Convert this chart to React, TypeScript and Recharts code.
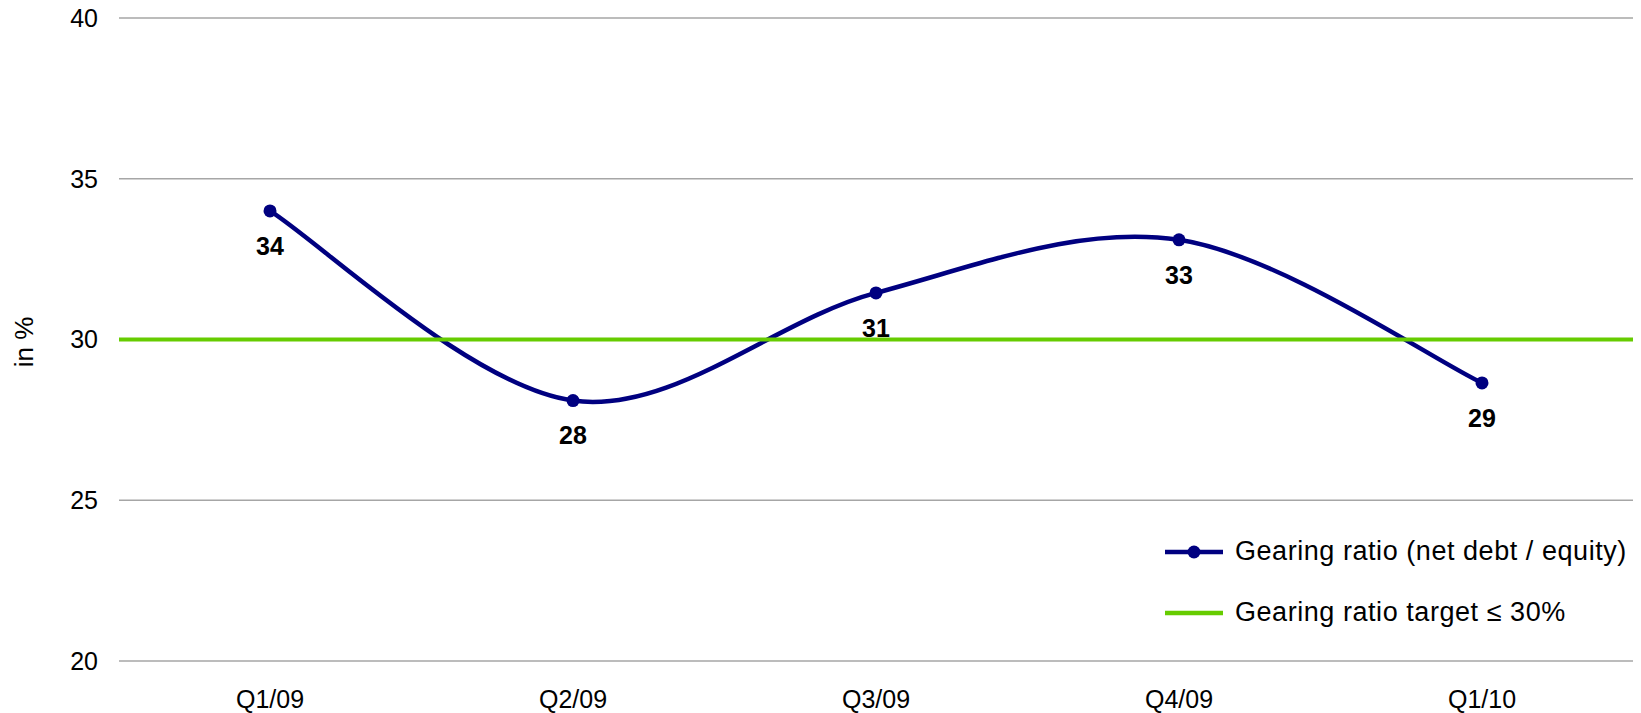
import { LineChart, Line, XAxis, YAxis, CartesianGrid, ReferenceLine, LabelList, Legend } from "recharts";

const quarters = ["Q1/09", "Q2/09", "Q3/09", "Q4/09", "Q1/10"];
const gearing = [34.0, 28.1, 31.45, 33.1, 28.65];
const targetLevel = 30;
const yTicks = [20, 25, 30, 35, 40];

const data = quarters.map((q, i) => ({ quarter: q, gearing: gearing[i] }));

const NAVY = "#000080";
const GREEN = "#66cc00";
const FONT = "'Liberation Sans', Arial, sans-serif";

// Excel-style smoothed line (Catmull-Rom through the points)
const excelSmooth = (context: any) => {
  let pts: [number, number][] = [];
  return {
    areaStart() {},
    areaEnd() {},
    lineStart() {
      pts = [];
    },
    point(x: number, y: number) {
      pts.push([+x, +y]);
    },
    lineEnd() {
      if (!pts.length) return;
      context.moveTo(pts[0][0], pts[0][1]);
      for (let i = 0; i < pts.length - 1; i++) {
        const p0 = pts[Math.max(i - 1, 0)];
        const p1 = pts[i];
        const p2 = pts[i + 1];
        const p3 = pts[Math.min(i + 2, pts.length - 1)];
        context.bezierCurveTo(
          p1[0] + (p2[0] - p0[0]) / 6,
          p1[1] + (p2[1] - p0[1]) / 6,
          p2[0] - (p3[0] - p1[0]) / 6,
          p2[1] - (p3[1] - p1[1]) / 6,
          p2[0],
          p2[1]
        );
      }
    },
  };
};

const legendItems = [
  { label: "Gearing ratio (net debt / equity)", color: NAVY, dot: true },
  { label: "Gearing ratio target \u2264 30%", color: GREEN, dot: false },
];

const renderLegend = () => (
  <div style={{ fontFamily: FONT, fontSize: 27, color: "#000" }}>
    {legendItems.map((item) => (
      <div key={item.label} style={{ display: "flex", alignItems: "center", height: 61 }}>
        <svg width={58} height={16} style={{ marginRight: 12 }}>
          <line x1={0} y1={8} x2={58} y2={8} stroke={item.color} strokeWidth={4.5} />
          {item.dot && <circle cx={29} cy={8} r={6.5} fill={item.color} />}
        </svg>
        <span style={{ whiteSpace: "nowrap", letterSpacing: 0.55 }}>{item.label}</span>
      </div>
    ))}
  </div>
);

export default function App() {
  return (
    <div style={{ position: "absolute", left: 0, top: 0, background: "#fff" }}>
      <LineChart width={1641} height={713} data={data} margin={{ top: 18, right: 8, bottom: 0, left: 0 }}>
        <CartesianGrid vertical={false} stroke="#a6a6a6" strokeWidth={1.5} />
        <XAxis
          dataKey="quarter"
          height={52}
          padding={{ left: 151, right: 151 }}
          axisLine={false}
          tickLine={false}
          tickSize={0}
          tickMargin={29}
          tick={{ fill: "#000", fontSize: 25, fontFamily: FONT }}
        />
        <YAxis
          width={119}
          domain={[20, 40]}
          ticks={yTicks}
          axisLine={false}
          tickLine={false}
          tickSize={0}
          tickMargin={21}
          tick={{ fill: "#000", fontSize: 25, fontFamily: FONT }}
          label={{
            content: () => (
              <text
                x={33}
                y={342}
                transform="rotate(-90 33 342)"
                textAnchor="middle"
                fontSize={26}
                fontFamily={FONT}
                fill="#000"
              >
                in %
              </text>
            ),
          }}
        />
        <Legend
          layout="horizontal"
          verticalAlign="middle"
          align="center"
          content={renderLegend}
          wrapperStyle={{ left: 1165, top: 521, width: "auto" }}
        />
        <Line
          dataKey="gearing"
          type={excelSmooth as any}
          stroke={NAVY}
          strokeWidth={4.5}
          dot={{ r: 6.5, fill: NAVY, stroke: NAVY, strokeWidth: 0 }}
          isAnimationActive={false}
        >
          <LabelList
            dataKey="gearing"
            position="bottom"
            offset={26}
            formatter={(v: any) => Math.round(Number(v))}
            style={{ fill: "#000", fontSize: 25, fontWeight: "bold", fontFamily: FONT }}
          />
        </Line>
        <ReferenceLine y={targetLevel} stroke={GREEN} strokeWidth={4} />
      </LineChart>
    </div>
  );
}
